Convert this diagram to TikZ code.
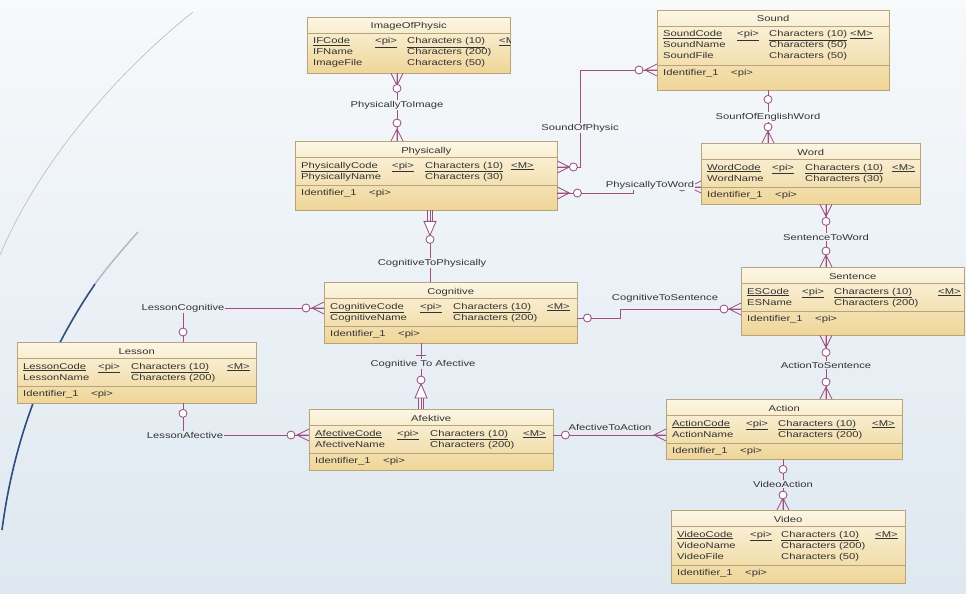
\documentclass[tikz,border=0pt]{standalone}
\usepackage{fontspec}
\setmainfont{Liberation Sans}[FakeStretch=1.32]
\usetikzlibrary{calc,positioning}

\definecolor{bgtop}{HTML}{F7F9FB}
\definecolor{bgbot}{HTML}{DEE8F0}
\definecolor{boxline}{HTML}{B8A47C}
\definecolor{boxtop}{HTML}{FCF6E4}
\definecolor{boxbot}{HTML}{EFD597}
\definecolor{rel}{HTML}{9C4F80}
\definecolor{txt}{HTML}{333333}
\definecolor{deco}{HTML}{2E4C7C}

\tikzset{ ent/.style = { rectangle % entity box
        , draw = boxline
        , top color = boxtop
        , bottom color = boxbot
        , inner sep = 0pt
        , anchor = north west
        }
        , att/.style = { anchor = base west % attribute text
        , inner sep = 0pt
        , text = txt
        , font = \fontsize{8.5}{9}\selectfont
        }
        , rl/.style = { draw = rel % relationship line
        , line width = 0.85pt
        }
        , lbl/.style = { fill = bgbot!#1!bgtop % relationship name
        , inner sep = 1pt
        , text = txt
        , font = \fontsize{8.5}{9}\selectfont
        }
        }

% entity: id, x, y, width, height, title
\newcommand{\erent}[6]{%
  \node[ent, minimum width=#4pt, minimum height=#5pt] (#1) at (#2,#3) {};
  \draw[boxline] ($(#1.north west)+(0,16)$) -- ($(#1.north east)+(0,16)$);
  \node[att, anchor=base] at ($(#1.north)+(0,12)$) {#6};
}
% attribute row: id, row, name, pi, type, M
\newcommand{\erattr}[6]{%
  \node[att] at ($(#1.north west)+(6,{16+11*#2})$) {#3};
  \node[att] at ($(#1.north west)+(\colpi,{16+11*#2})$) {#4};
  \node[att] at ($(#1.north west)+(\colty,{16+11*#2})$) {#5};
  \node[att] at ($(#1.north west)+(\colm,{16+11*#2})$) {#6};
}
% identifier part: id, number of rows above
\newcommand{\erident}[2]{%
  \draw[boxline] ($(#1.north west)+(0,{22+11*#2})$) -- ($(#1.north east)+(0,{22+11*#2})$);
  \node[att] at ($(#1.north west)+(6,{32+11*#2})$) {Identifier\_1};
  \node[att] at ($(#1.north west)+(74,{32+11*#2})$) {<pi>};
}
% end marks: point, outward angle (, distance)
\newcommand{\crowat}[2]{\begin{scope}[shift={(#1)}, rotate=#2]
  \draw[rl] (0,6) -- (12,0) -- (0,-6) (0,0) -- (12,0);
  \end{scope}}
\newcommand{\ringat}[3]{\begin{scope}[shift={(#1)}, rotate=#2]
  \draw[rl, fill=white] (#3,0) circle (4pt);
  \end{scope}}
\newcommand{\barat}[3]{\begin{scope}[shift={(#1)}, rotate=#2]
  \draw[rl] (#3,5) -- (#3,-5);
  \end{scope}}
\newcommand{\depat}[2]{\begin{scope}[shift={(#1)}, rotate=#2]
  \draw[rl] (0,2.5) -- (11,2.5) (0,-2.5) -- (11,-2.5);
  \draw[rl, fill=white] (11,6) -- (25,0) -- (11,-6) -- cycle;
  \draw[rl, fill=white] (29,0) circle (4pt);
  \end{scope}}

\begin{document}
\begin{tikzpicture}[x=1pt, y=-1pt]
\useasboundingbox (0,0) rectangle (966,594);
\shade[top color=bgtop, bottom color=bgbot] (0,0) rectangle (966,594);
\draw[gray!55, line width=0.6pt] (193,12) .. controls (120,70) and (40,160) .. (0,255);
\draw[deco!40, line width=1.4pt] (138,232) .. controls (120,252) and (105,270) .. (95,284);
\draw[deco, line width=1.6pt] (95,284) .. controls (50,350) and (15,430) .. (2,530);

% entities
\def\colpi{68}\def\colty{100}\def\colm{192}
\erent{img}{307}{17}{203}{56}{ImageOfPhysic}
\erattr{img}{1}{\underline{IFCode}}{\underline{<pi>}}{\underline{Characters (10)}}{}
\erattr{img}{2}{IFName}{}{Characters (200)}{}
\erattr{img}{3}{ImageFile}{}{Characters (50)}{}
\begin{scope}
  \clip (img.north west) rectangle (img.south east);
  \node[att] at ($(img.north west)+(\colm,27)$) {\underline{<M>}};
\end{scope}

\def\colpi{80}\def\colty{112}\def\colm{193}
\erent{sound}{657}{10}{232}{80}{Sound}
\erattr{sound}{1}{\underline{SoundCode}}{\underline{<pi>}}{\underline{Characters (10)}}{\underline{<M>}}
\erattr{sound}{2}{SoundName}{}{Characters (50)}{}
\erattr{sound}{3}{SoundFile}{}{Characters (50)}{}
\erident{sound}{3}

\def\colpi{97}\def\colty{130}\def\colm{216}
\erent{phys}{295}{141}{262}{69}{Physically}
\erattr{phys}{1}{\underline{PhysicallyCode}}{\underline{<pi>}}{\underline{Characters (10)}}{\underline{<M>}}
\erattr{phys}{2}{PhysicallyName}{}{Characters (30)}{}
\erident{phys}{2}

\def\colpi{71}\def\colty{104}\def\colm{191}
\erent{word}{701}{143}{219}{61}{Word}
\erattr{word}{1}{\underline{WordCode}}{\underline{<pi>}}{\underline{Characters (10)}}{\underline{<M>}}
\erattr{word}{2}{WordName}{}{Characters (30)}{}
\erident{word}{2}

\def\colpi{96}\def\colty{129}\def\colm{223}
\erent{cog}{324}{282}{253}{61}{Cognitive}
\erattr{cog}{1}{\underline{CognitiveCode}}{\underline{<pi>}}{\underline{Characters (10)}}{\underline{<M>}}
\erattr{cog}{2}{CognitiveName}{}{Characters (200)}{}
\erident{cog}{2}

\def\colpi{61}\def\colty{93}\def\colm{197}
\erent{sent}{741}{267}{223}{68}{Sentence}
\erattr{sent}{1}{\underline{ESCode}}{\underline{<pi>}}{\underline{Characters (10)}}{\underline{<M>}}
\erattr{sent}{2}{ESName}{}{Characters (200)}{}
\erident{sent}{2}

\def\colpi{81}\def\colty{114}\def\colm{210}
\erent{less}{17}{342}{239}{61}{Lesson}
\erattr{less}{1}{\underline{LessonCode}}{\underline{<pi>}}{\underline{Characters (10)}}{\underline{<M>}}
\erattr{less}{2}{LessonName}{}{Characters (200)}{}
\erident{less}{2}

\def\colpi{88}\def\colty{121}\def\colm{214}
\erent{afek}{309}{409}{244}{61}{Afektive}
\erattr{afek}{1}{\underline{AfectiveCode}}{\underline{<pi>}}{\underline{Characters (10)}}{\underline{<M>}}
\erattr{afek}{2}{AfectiveName}{}{Characters (200)}{}
\erident{afek}{2}

\def\colpi{80}\def\colty{112}\def\colm{206}
\erent{act}{666}{399}{236}{60}{Action}
\erattr{act}{1}{\underline{ActionCode}}{\underline{<pi>}}{\underline{Characters (10)}}{\underline{<M>}}
\erattr{act}{2}{ActionName}{}{Characters (200)}{}
\erident{act}{2}

\def\colpi{79}\def\colty{110}\def\colm{204}
\erent{vid}{671}{510}{234}{73}{Video}
\erattr{vid}{1}{\underline{VideoCode}}{\underline{<pi>}}{\underline{Characters (10)}}{\underline{<M>}}
\erattr{vid}{2}{VideoName}{}{Characters (200)}{}
\erattr{vid}{3}{VideoFile}{}{Characters (50)}{}
\erident{vid}{3}

% relationships
\coordinate (ip1) at ($(img.south west)+(90,0)$);
\coordinate (ip2) at ($(phys.north west)+(102,0)$);
\draw[rl] (ip1) -- (ip2);
\crowat{ip1}{270}\ringat{ip1}{270}{15}
\crowat{ip2}{90}\ringat{ip2}{90}{18}

\coordinate (sp1) at ($(sound.north west)+(0,60)$);
\coordinate (sp2) at ($(phys.north east)+(0,26)$);
\draw[rl] (sp1) -| ($(sp2)+(23,0)$) -- (sp2);
\crowat{sp1}{180}\ringat{sp1}{180}{18}
\crowat{sp2}{0}\ringat{sp2}{0}{16}

\coordinate (sw1) at ($(sound.south west)+(111,0)$);
\coordinate (sw2) at ($(word.north west)+(67,0)$);
\draw[rl] (sw1) -- (sw2);
\ringat{sw1}{270}{9}
\crowat{sw2}{90}\ringat{sw2}{90}{16}

\coordinate (pw1) at ($(phys.north east)+(0,52)$);
\coordinate (pw2) at ($(word.north west)+(0,44)$);
\draw[rl] (pw1) -- ++(76,0) |- (pw2);
\crowat{pw1}{0}\ringat{pw1}{0}{20}
\crowat{pw2}{180}\ringat{pw2}{180}{19}

\coordinate (ws1) at ($(word.south west)+(125,0)$);
\coordinate (ws2) at ($(sent.north west)+(85,0)$);
\draw[rl] (ws1) -- (ws2);
\crowat{ws1}{270}\ringat{ws1}{270}{17}
\crowat{ws2}{90}\ringat{ws2}{90}{16}

\coordinate (cp1) at ($(phys.south west)+(135,0)$);
\coordinate (cp2) at ($(cog.north west)+(106,0)$);
\draw[rl] (cp1) -- (cp2);
\depat{cp1}{270}

\coordinate (cs1) at ($(cog.north east)+(0,36)$);
\coordinate (cs2) at ($(sent.north west)+(0,42)$);
\draw[rl] (cs1) -- ++(43,0) |- (cs2);
\ringat{cs1}{0}{10}
\crowat{cs2}{180}\ringat{cs2}{180}{17}

\coordinate (lc1) at ($(cog.north west)+(0,26)$);
\coordinate (lc2) at ($(less.north west)+(166,0)$);
\draw[rl] (lc1) -| (lc2);
\crowat{lc1}{180}\ringat{lc1}{180}{18}
\ringat{lc2}{90}{10}

\coordinate (ca1) at ($(cog.south west)+(97,0)$);
\coordinate (ca2) at ($(afek.north west)+(112,0)$);
\draw[rl] (ca1) -- (ca2);
\barat{ca1}{270}{12}
\depat{ca2}{90}

\coordinate (la1) at ($(less.south west)+(166,0)$);
\coordinate (la2) at ($(afek.north west)+(0,26)$);
\draw[rl] (la1) |- (la2);
\ringat{la1}{270}{10}
\crowat{la2}{180}\ringat{la2}{180}{18}

\coordinate (aa1) at ($(afek.north east)+(0,26)$);
\coordinate (aa2) at ($(act.north west)+(0,36)$);
\draw[rl] (aa1) -- (aa2);
\ringat{aa1}{0}{12}
\crowat{aa2}{180}

\coordinate (as1) at ($(sent.south west)+(85,0)$);
\coordinate (as2) at ($(act.north west)+(160,0)$);
\draw[rl] (as1) -- (as2);
\crowat{as1}{270}\ringat{as1}{270}{17}
\crowat{as2}{90}\ringat{as2}{90}{17}

\coordinate (va1) at ($(act.south west)+(117,0)$);
\coordinate (va2) at ($(vid.north west)+(112,0)$);
\draw[rl] (va1) -- (va2);
\ringat{va1}{270}{10}
\crowat{va2}{90}\ringat{va2}{90}{15}

% relationship names
\node[lbl=18] (r1) at (397,105) {PhysicallyToImage};
\node[lbl=22] (r2) at (580,128) {SoundOfPhysic};
\node[lbl=20] (r3) at (768,117) {SounfOfEnglishWord};
\node[lbl=31] (r4) at (650,185) {PhysicallyToWord};
\node[lbl=40] (r5) at (826,237) {SentenceToWord};
\node[lbl=44] (r6) at (432,263) {CognitiveToPhysically};
\node[lbl=50] (r7) at (665,298) {CognitiveToSentence};
\node[lbl=52] (r8) at (183,308) {LessonCognitive};
\node[lbl=61] (r9) at (423,364) {Cognitive To Afective};
\node[lbl=73] (r10) at (185,435) {LessonAfective};
\node[lbl=72] (r11) at (610,427) {AfectiveToAction};
\node[lbl=61] (r12) at (826,365) {ActionToSentence};
\node[lbl=81] (r13) at (783,484) {VideoAction};
\end{tikzpicture}
\end{document}
